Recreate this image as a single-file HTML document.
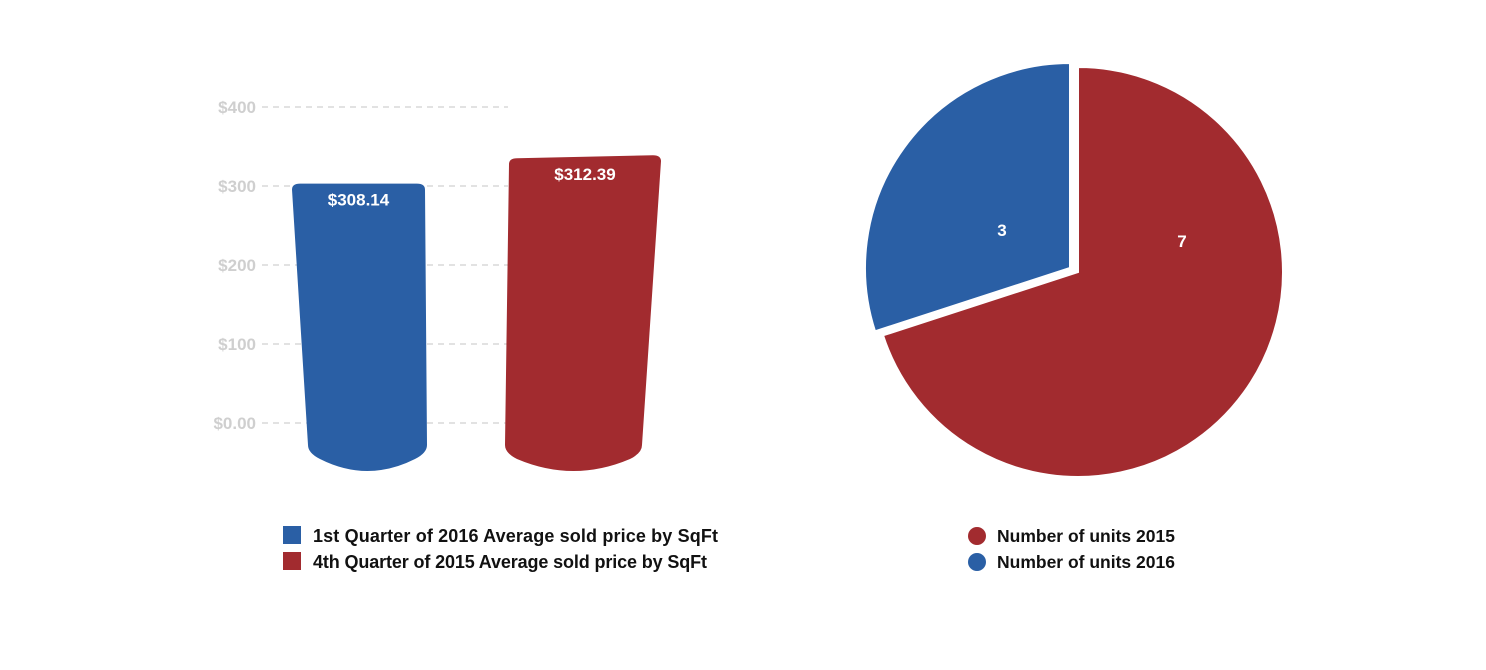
<!DOCTYPE html>
<html><head><meta charset="utf-8"><style>
body{margin:0;background:#fff;font-family:"Liberation Sans",sans-serif}
svg{display:block}
</style></head><body>
<svg width="1486" height="670">
<g id="bars"></g>
<g id="pie"></g>
<g font-size="18" font-weight="bold" fill="#111">
<rect x="283" y="526" width="18" height="18" fill="#2a5fa5"/>
<text x="313" y="542" textLength="405">1st Quarter of 2016 Average sold price by SqFt</text>
<rect x="283" y="552" width="18" height="18" fill="#a22b2f"/>
<text x="313" y="568" textLength="394">4th Quarter of 2015 Average sold price by SqFt</text>
</g>
<g font-size="17.5" font-weight="bold" fill="#111">
<circle cx="977" cy="536" r="9" fill="#a22b2f"/>
<text x="997" y="542">Number of units 2015</text>
<circle cx="977" cy="562" r="9" fill="#2a5fa5"/>
<text x="997" y="568">Number of units 2016</text>
</g>
</svg>
<script>
const barCategories=["1st Quarter of 2016","4th Quarter of 2015"];
const barValues=[308.14,312.39];
const barLabels=["$308.14","$312.39"];
const yTicks=[0,100,200,300,400];
const yTickLabels=["$0.00","$100","$200","$300","$400"];
const pieCategories=["Number of units 2016","Number of units 2015"];
const pieValues=[3,7];
const NS="http://www.w3.org/2000/svg";
function mk(t,a,p){const e=document.createElementNS(NS,t);for(const k in a)e.setAttribute(k,a[k]);p.appendChild(e);return e;}
const y=v=>423-v*0.79;
const bg=document.getElementById('bars');
yTicks.forEach((t,i)=>{
 const l=mk('line',{x1:262,x2:508,y1:y(t),y2:y(t),stroke:'#d0d0d0','stroke-width':1.3,'stroke-dasharray':'6,5'},bg);
 
 
 const tx=mk('text',{x:256,y:y(t)+6,'text-anchor':'end','font-size':17,'font-weight':'bold',fill:'#cfcfcf'},bg);
 tx.textContent=yTickLabels[i];
 
 
});
const colors=['#2a5fa5','#a22b2f'];
const geo=[{l:292,r:425,bl:308,br:427,lift:-4,tilt:0},{l:509,r:661,bl:505,br:642,lift:18,tilt:3}];
barValues.forEach((v,i)=>{
 const g=geo[i],top=y(v)-g.lift,bot=445;
 const d=`M${g.l},${top+6} Q${g.l},${top} ${g.l+8},${top} L${g.r-8},${top-g.tilt} Q${g.r},${top-g.tilt} ${g.r},${top-g.tilt+6} L${g.br},${bot} Q${g.br},${bot+8} ${g.br-12},${bot+14} Q${(g.bl+g.br)/2},${bot+38} ${g.bl+12},${bot+14} Q${g.bl},${bot+8} ${g.bl},${bot} Z`;
 const p=mk('path',{d:d,fill:colors[i]},bg);
 
 
 const t=mk('text',{x:(g.l+g.r)/2,y:top+22,'text-anchor':'middle','font-size':17,'font-weight':'bold',fill:'#fff'},bg);
 t.textContent=barLabels[i];
 
 
});
const pg=document.getElementById('pie');
const cx=1078,cy=272,R=205,total=pieValues.reduce((a,b)=>a+b,0);
const pieColors=['#2a5fa5','#a22b2f'];
let a0=-Math.PI/2;
const blueSpan=pieValues[0]/total*2*Math.PI;
const slices=[{s:a0-blueSpan,e:a0,off:[-8,-4],lab:[1002,236]},{s:a0,e:a0+2*Math.PI-blueSpan,off:[0,0],lab:[1182,247]}];
slices.forEach((s,i)=>{
 const ox=cx+s.off[0],oy=cy+s.off[1];
 const x1=ox+R*Math.cos(s.s),y1=oy+R*Math.sin(s.s),x2=ox+R*Math.cos(s.e),y2=oy+R*Math.sin(s.e);
 const large=(s.e-s.s)>Math.PI?1:0;
 const p=mk('path',{d:`M${ox},${oy} L${x1},${y1} A${R},${R} 0 ${large} 1 ${x2},${y2} Z`,fill:pieColors[i],stroke:'#fff','stroke-width':2},pg);
 
 
 const t=mk('text',{x:s.lab[0],y:s.lab[1],'text-anchor':'middle','font-size':17,'font-weight':'bold',fill:'#fff'},pg);
 t.textContent=String(pieValues[i]);
 
 
});
</script>
</body></html>
